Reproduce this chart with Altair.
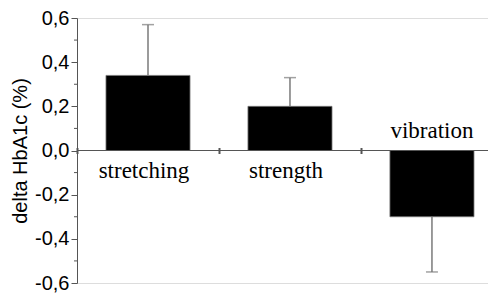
import altair as alt
import pandas as pd

categories = ["stretching", "strength", "vibration"]
means = [0.34, 0.20, -0.30]
err_ends = [0.57, 0.33, -0.55]
major_ticks = [-0.6, -0.4, -0.2, 0.0, 0.2, 0.4, 0.6]
minor_ticks = [-0.5, -0.3, -0.1, 0.1, 0.3, 0.5]

df = pd.DataFrame({"cat": categories, "mean": means, "err": err_ends})
minor_df = pd.DataFrame({"v": minor_ticks})

axis_color = "#555555"
serif = "Liberation Serif"
sans = "Liberation Sans"

x_enc = alt.X(
    "cat:N",
    sort=categories,
    scale=alt.Scale(domain=categories, paddingInner=0.408, paddingOuter=0.1514, align=0.674),
    axis=alt.Axis(labels=False, title=None, domain=False, ticks=True, tickSize=6,
                  tickWidth=2, tickColor=axis_color, bandPosition=0, tickOffset=-29,
                  offset=-135.5, grid=False),
)

y_scale = alt.Scale(domain=[-0.6, 0.6], nice=False, zero=False)

base = alt.Chart(df)

bars = base.mark_bar(color="black", stroke="#777777", strokeWidth=0.8).encode(
    x=x_enc,
    y=alt.Y("mean:Q", scale=y_scale,
            axis=alt.Axis(values=major_ticks, title="delta HbA1c (%)",
                          labelExpr="replace(replace(format(datum.value, '.1f'), '.', ','), '\u2212', '-')",
                          labelFont=sans, labelFontSize=20, labelColor="black",
                          labelPadding=2, tickSize=6, tickColor=axis_color, domainColor=axis_color,
                          titleFont=sans, titleFontSize=20, titleFontWeight="normal",
                          titleColor="black", titlePadding=4, grid=False)),
)

err_rule = base.mark_rule(color="#7a7a7a", strokeWidth=1.5).encode(
    x=alt.X("cat:N", sort=categories),
    y=alt.Y("mean:Q"),
    y2="err:Q",
)

err_cap = base.mark_tick(color="#7a7a7a", thickness=1.5, size=12, orient="horizontal").encode(
    x=alt.X("cat:N", sort=categories),
    y=alt.Y("err:Q"),
)

zero_line = alt.Chart(df).mark_rule(color=axis_color, strokeWidth=1).encode(
    y=alt.datum(0),
)

minor = alt.Chart(minor_df).mark_rule(color=axis_color, strokeWidth=1, clip=False).encode(
    y=alt.Y("v:Q"),
    x=alt.value(0),
    x2=alt.value(-3),
)

labels_pos = base.transform_filter("datum.mean >= 0").mark_text(
    font=serif, fontSize=23, color="black", dy=20, dx=-4, baseline="middle"
).encode(
    x=alt.X("cat:N", sort=categories),
    y=alt.datum(0),
    text="cat:N",
)

labels_neg = base.transform_filter("datum.mean < 0").mark_text(
    font=serif, fontSize=23, color="black", dy=-20, baseline="middle"
).encode(
    x=alt.X("cat:N", sort=categories),
    y=alt.datum(0),
    text="cat:N",
)

chart = alt.layer(
    bars, err_rule, err_cap, zero_line, minor, labels_pos, labels_neg
).properties(
    width=411,
    height=265,
    autosize=alt.AutoSizeParams(type="none"),
    padding={"left": 69, "top": 10, "right": 0, "bottom": 10},
).configure_view(stroke=None).configure(background="white")

chart.save("out.html", embed_options={"renderer": "svg", "actions": False})
